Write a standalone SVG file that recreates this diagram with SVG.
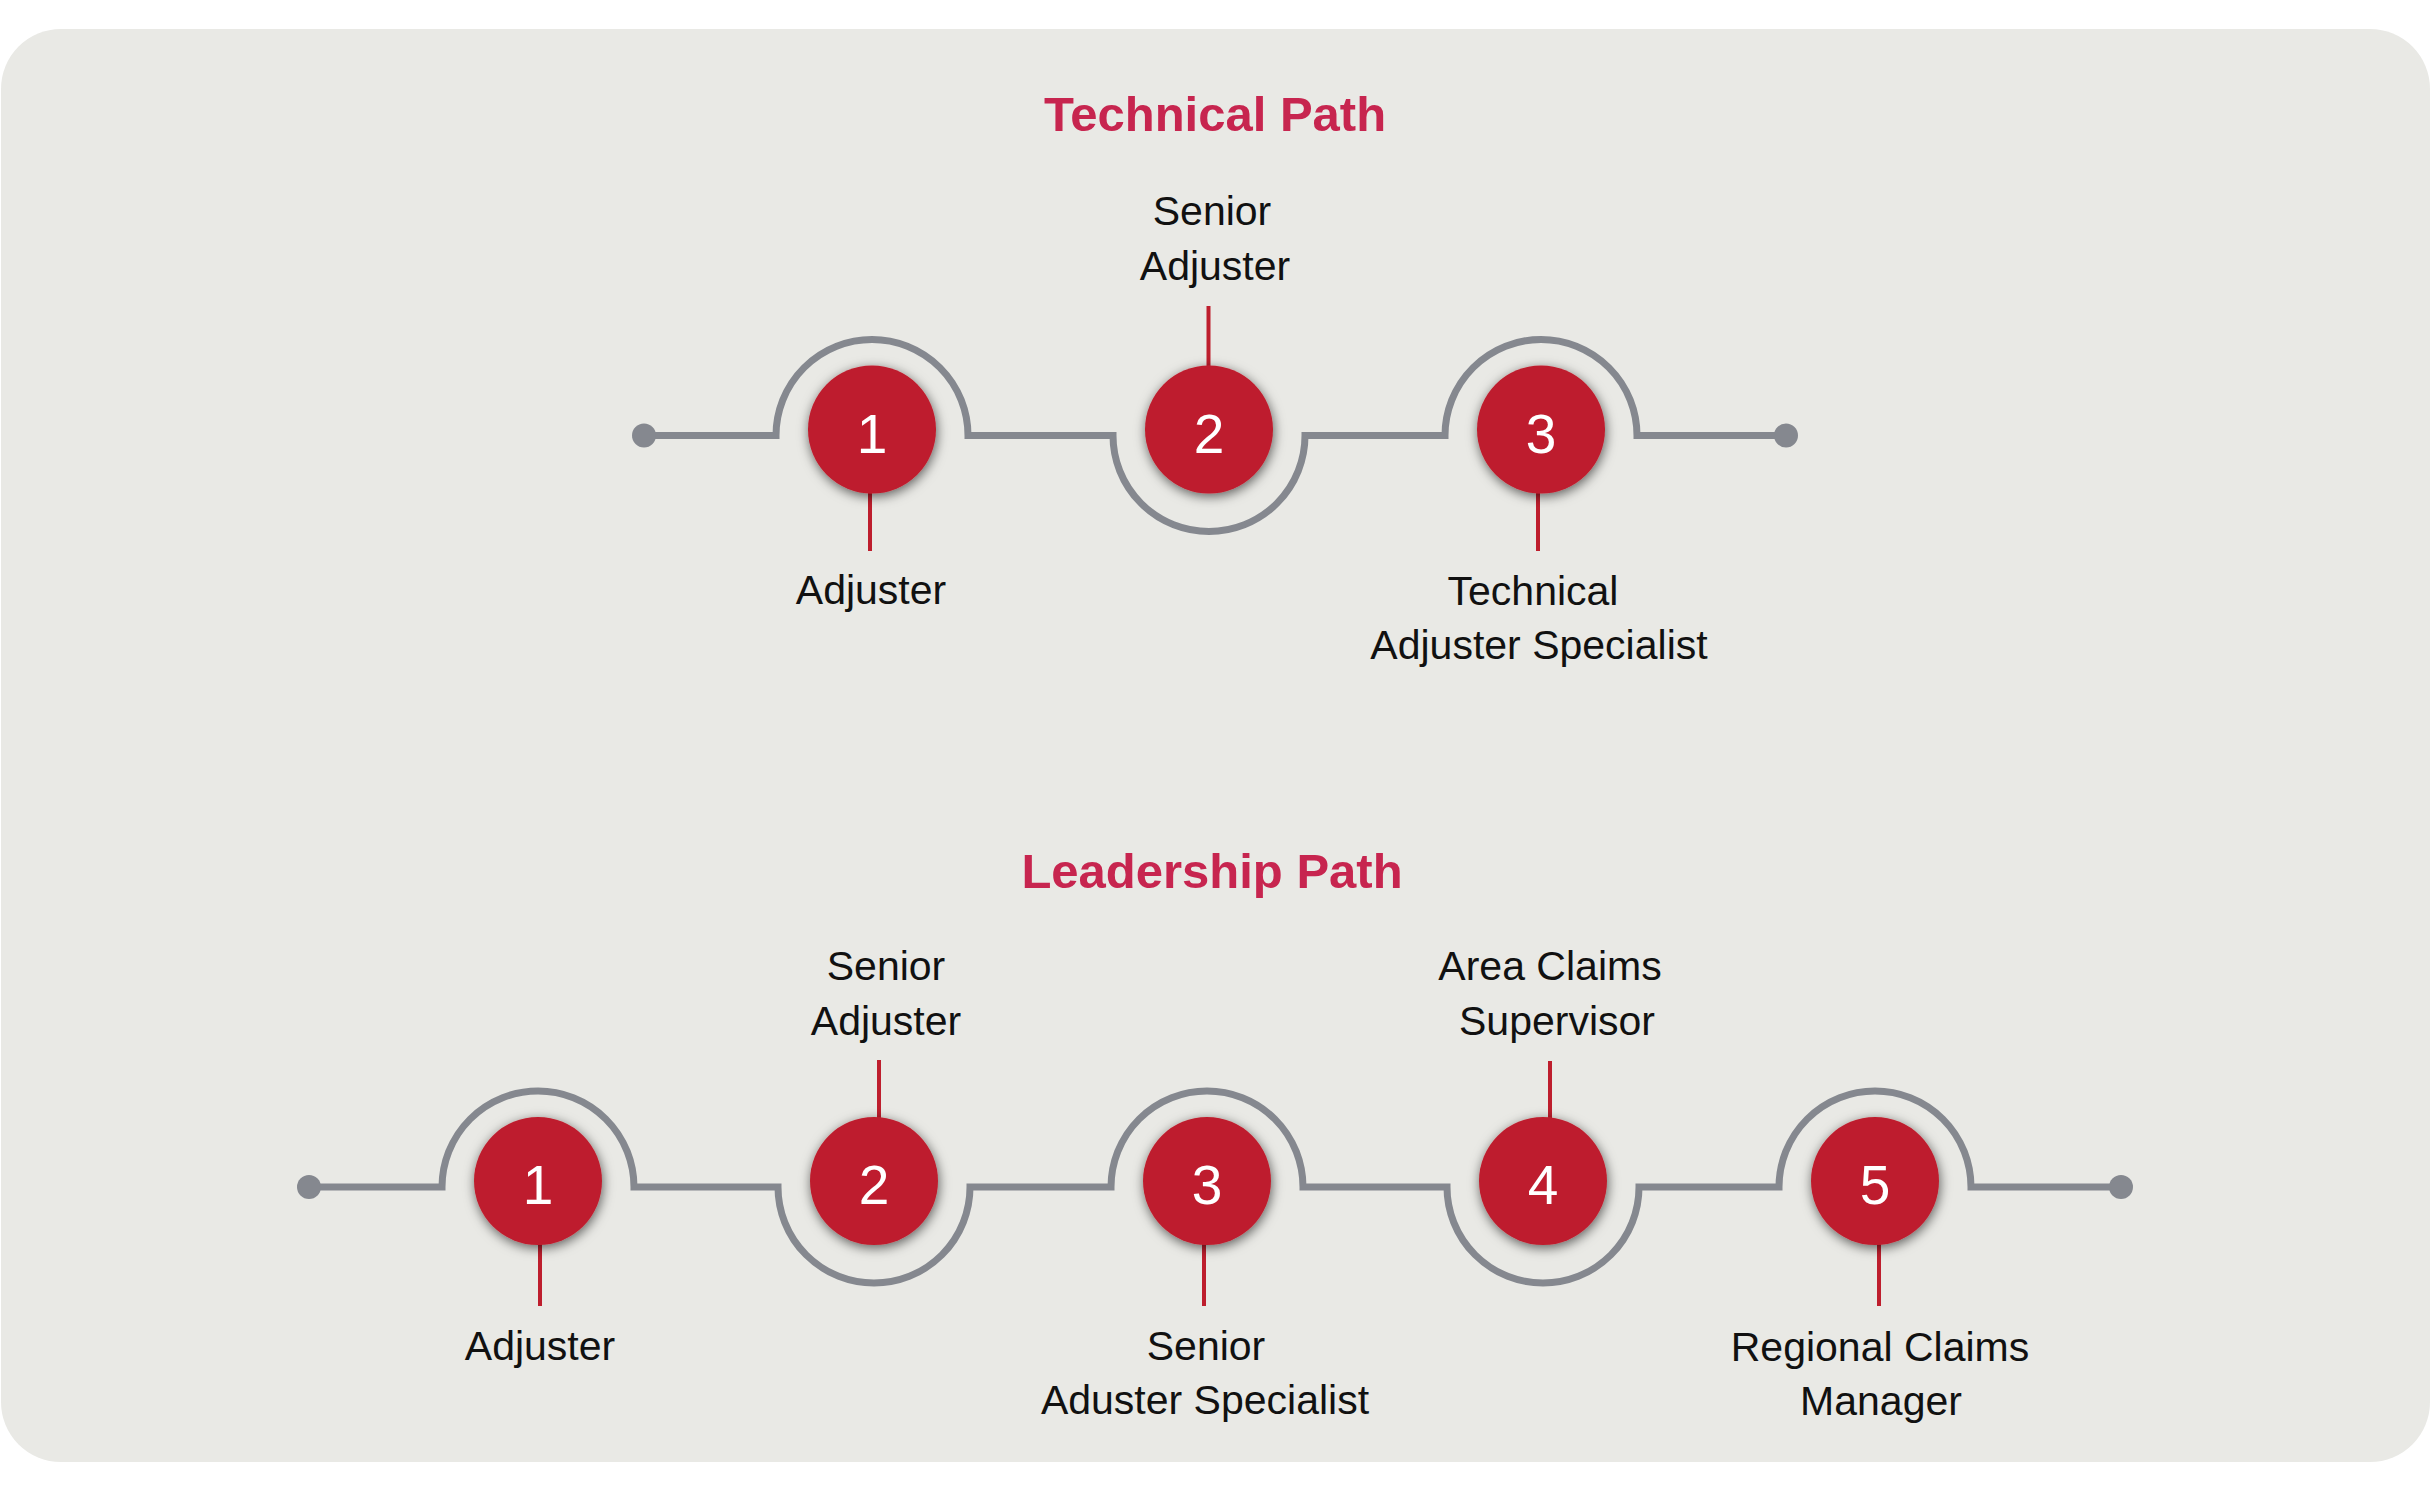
<svg xmlns="http://www.w3.org/2000/svg" width="2430" height="1489" viewBox="0 0 2430 1489">
<defs>
<filter id="sh" x="-40%" y="-40%" width="180%" height="180%">
<feDropShadow dx="1" dy="3" stdDeviation="6" flood-color="#000" flood-opacity="0.6"/>
</filter>
<style>
.track{fill:none;stroke:#85888F;stroke-width:7;stroke-linejoin:miter}
.dot{fill:#85888F}
.lead{stroke:#BE1E2D;stroke-width:4}
.disc{fill:#BE1E2D;filter:url(#sh)}
.num{font-family:"Liberation Sans",Arial,sans-serif;font-size:55px;fill:#fff;text-anchor:middle}
.lbl{font-family:"Liberation Sans",Arial,sans-serif;font-size:41px;fill:#111;text-anchor:middle}
.title{font-family:"Liberation Sans",Arial,sans-serif;font-size:49px;font-weight:bold;fill:#C7254F;text-anchor:middle}
</style>
</defs>
<rect x="0" y="0" width="2430" height="1489" fill="#fff"/>
<rect x="1" y="29" width="2429" height="1433" rx="60" ry="60" fill="#E9E9E5"/>

<text class="title" x="1215" y="131">Technical Path</text>
<text class="title" x="1212" y="888">Leadership Path</text>

<g id="connectors">
<path class="track" d="M 644 435.5 H 776 A 96 96 0 0 1 968 435.5 H 1113 A 96 96 0 0 0 1305 435.5 H 1445 A 96 96 0 0 1 1637 435.5 H 1786"/>
<circle class="dot" cx="644" cy="435.5" r="12"/>
<circle class="dot" cx="1786" cy="435.5" r="12"/>
<path class="track" d="M 309 1187 H 442 A 96 96 0 0 1 634 1187 H 778 A 96 96 0 0 0 970 1187 H 1111 A 96 96 0 0 1 1303 1187 H 1447 A 96 96 0 0 0 1639 1187 H 1779 A 96 96 0 0 1 1971 1187 H 2121"/>
<circle class="dot" cx="309" cy="1187" r="12"/>
<circle class="dot" cx="2121" cy="1187" r="12"/>
</g>

<g id="tech-1">
<line class="lead" x1="870" y1="480" x2="870" y2="551"/>
<circle class="disc" cx="872" cy="429.5" r="64"/>
<text class="num" x="872" y="452.5">1</text>
<text class="lbl" x="871" y="604">Adjuster</text>
</g>
<g id="tech-2">
<line class="lead" x1="1208.5" y1="306" x2="1208.5" y2="380"/>
<circle class="disc" cx="1209" cy="429.5" r="64"/>
<text class="num" x="1209" y="452.5">2</text>
<text class="lbl" x="1212" y="225">Senior</text>
<text class="lbl" x="1215" y="280">Adjuster</text>
</g>
<g id="tech-3">
<line class="lead" x1="1538" y1="480" x2="1538" y2="551"/>
<circle class="disc" cx="1541" cy="429.5" r="64"/>
<text class="num" x="1541" y="452.5">3</text>
<text class="lbl" x="1533" y="605">Technical</text>
<text class="lbl" x="1539" y="659">Adjuster Specialist</text>
</g>

<g id="lead-1">
<line class="lead" x1="540" y1="1230" x2="540" y2="1306"/>
<circle class="disc" cx="538" cy="1181" r="64"/>
<text class="num" x="538" y="1204">1</text>
<text class="lbl" x="540" y="1360">Adjuster</text>
</g>
<g id="lead-2">
<line class="lead" x1="879" y1="1060" x2="879" y2="1130"/>
<circle class="disc" cx="874" cy="1181" r="64"/>
<text class="num" x="874" y="1204">2</text>
<text class="lbl" x="886" y="980">Senior</text>
<text class="lbl" x="886" y="1035">Adjuster</text>
</g>
<g id="lead-3">
<line class="lead" x1="1204" y1="1230" x2="1204" y2="1306"/>
<circle class="disc" cx="1207" cy="1181" r="64"/>
<text class="num" x="1207" y="1204">3</text>
<text class="lbl" x="1206" y="1360">Senior</text>
<text class="lbl" x="1205" y="1414">Aduster Specialist</text>
</g>
<g id="lead-4">
<line class="lead" x1="1550" y1="1061" x2="1550" y2="1130"/>
<circle class="disc" cx="1543" cy="1181" r="64"/>
<text class="num" x="1543" y="1204">4</text>
<text class="lbl" x="1550" y="980">Area Claims</text>
<text class="lbl" x="1557" y="1035">Supervisor</text>
</g>
<g id="lead-5">
<line class="lead" x1="1879" y1="1230" x2="1879" y2="1306"/>
<circle class="disc" cx="1875" cy="1181" r="64"/>
<text class="num" x="1875" y="1204">5</text>
<text class="lbl" x="1880" y="1361">Regional Claims</text>
<text class="lbl" x="1881" y="1415">Manager</text>
</g>
</svg>
